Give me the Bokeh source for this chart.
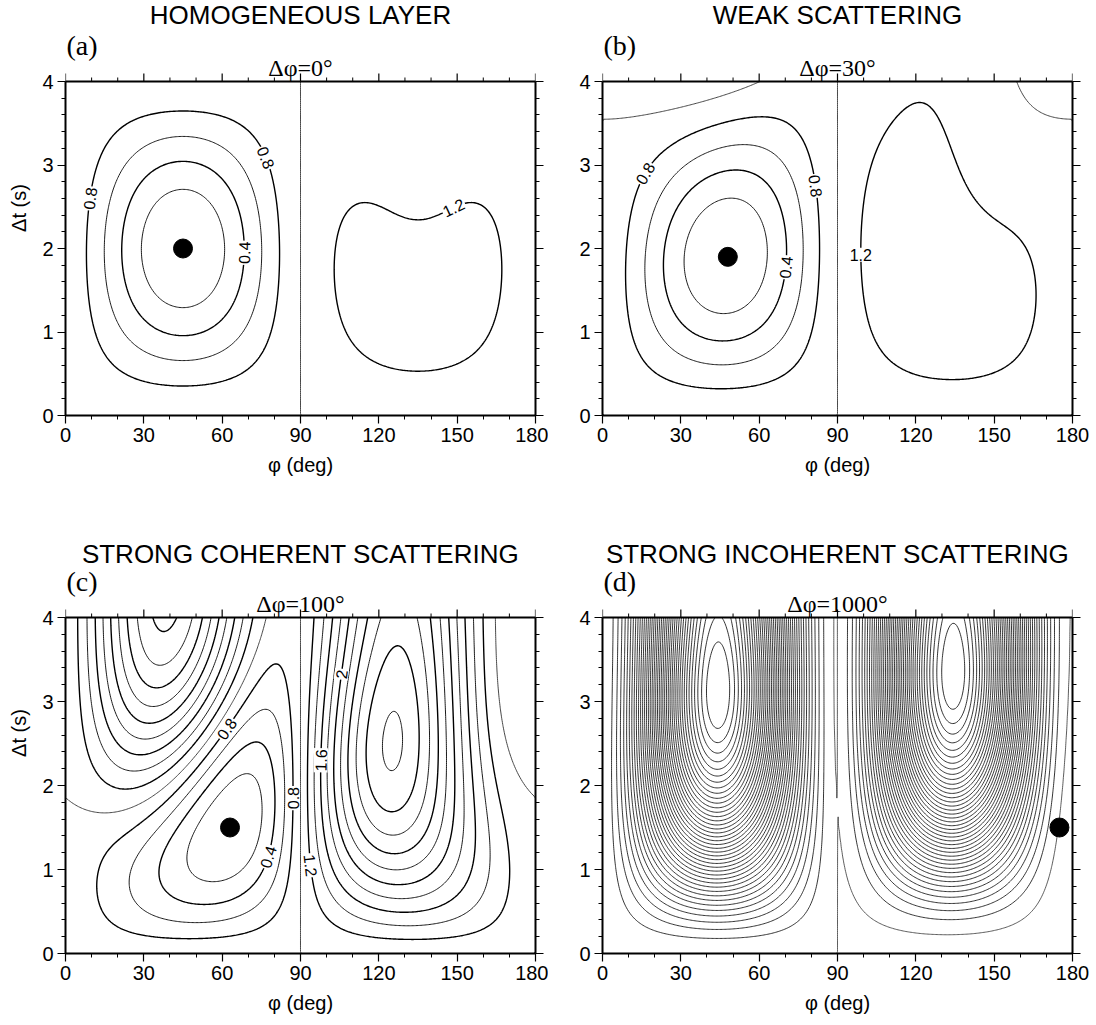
import numpy as np
from contourpy import contour_generator
from bokeh.plotting import figure
from bokeh.layouts import column, row
from bokeh.models import Label, LinearAxis, FixedTicker, Range1d, ColumnDataSource
from bokeh.core.properties import value
from bokeh.embed import file_html
from bokeh.resources import INLINE

# ---------------- values ----------------
panel_titles = ["HOMOGENEOUS LAYER", "WEAK SCATTERING",
                "STRONG COHERENT SCATTERING", "STRONG INCOHERENT SCATTERING"]
panel_tags = ["(a)", "(b)", "(c)", "(d)"]
dphi_values = [0, 30, 100, 1000]          # rotation of fast axis (deg)
best_phi = [45, 48, 63, 175]               # black dots
best_dt = [2.0, 1.9, 1.5, 1.5]
x_ticks = [0, 30, 60, 90, 120, 150, 180]
x_minor = list(range(0, 181, 10))
y_ticks = [0, 1, 2, 3, 4]
y_minor = [round(0.2 * i, 1) for i in range(21)]
contour_step = 0.2
d_level_count = 42                         # contours in the incoherent case
# anisotropic model parameters (estimated)
layer_phi = 45.0
layer_dt = 2.0
wavelet_sigma = 0.655                      # rad/s, spectrum ~ w*exp(-w^2/2s^2)
n_sublayers = 200
# contour annotations (panel, level, text, approx phi, approx dt, fixed angle or None)
label_panel = [0, 0, 0, 0, 1, 1, 1, 1, 2, 2, 2, 2, 2, 2]
label_level = [0.8, 0.8, 0.4, 1.2, 0.8, 0.8, 0.4, 1.2, 0.8, 0.8, 1.6, 2.0, 0.4, 1.2]
label_text = ["0.8", "0.8", "0.4", "1.2", "0.8", "0.8", "0.4", "1.2",
              "0.8", "0.8", "1.6", "2", "0.4", "1.2"]
label_phi = [9.9, 77.0, 69.2, 148.6, 17.0, 81.5, 70.6, 99.2, 61.2, 87.3, 98.2, 106.4, 77.7, 93.0]
label_dt = [2.61, 3.09, 1.95, 2.47, 2.89, 2.75, 1.77, 1.93, 2.68, 1.85, 2.30, 3.31, 1.14, 1.04]
label_fixed = [None, None, None, None, None, None, None, 0.0, None, None, None, None, None, None]

# ---------------- model ----------------
phi_grid = np.linspace(0, 180, 362)
dt_grid = np.linspace(0, 4, 161)
w = np.linspace(0.004, 3.2, 800)
P = w * np.exp(-w ** 2 / (2 * wavelet_sigma ** 2))


def forward(dphi):
    start = layer_phi - dphi / 2.0
    th = np.deg2rad(start + dphi * (np.arange(n_sublayers) + 0.5) / n_sublayers)
    ph = np.exp(-1j * w * layer_dt / n_sublayers)
    UR = np.ones_like(w, dtype=complex)
    UT = np.zeros_like(w, dtype=complex)
    for t in th:
        c, s = np.cos(t), np.sin(t)
        f = c * UR + s * UT
        sl = (-s * UR + c * UT) * ph
        UR = c * f - s * sl
        UT = s * f + c * sl
    return UR, UT


def energy(dphi):
    UR, UT = forward(dphi)
    E0 = np.sum(P * np.abs(UT) ** 2)
    phr = np.deg2rad(phi_grid)[:, None]
    c, s = np.cos(phr), np.sin(phr)
    A = (s * c) * UR[None, :]
    B = UT[None, :]
    E = np.empty((len(dt_grid), len(phi_grid)))
    for j, d in enumerate(dt_grid):
        e = np.exp(1j * w * d)[None, :]
        VT = A * (1 - e) + B * (s * s + c * c * e)
        E[j] = (np.abs(VT) ** 2) @ P / E0
    return E


SX = 470 / 180.0


def style_axis(ax, show_labels):
    ax.axis_line_width = 2
    ax.major_tick_out = 8
    ax.major_tick_in = 0
    ax.minor_tick_out = 4
    ax.minor_tick_in = 0
    ax.major_tick_line_width = 1.2
    ax.minor_tick_line_width = 1
    ax.major_label_text_font = "Liberation Sans"
    ax.axis_label_text_font = "Liberation Sans"
    ax.axis_label_text_font_size = "20px"
    ax.axis_label_text_font_style = "normal"
    ax.axis_label_text_color = "black"
    if show_labels:
        ax.major_label_text_font_size = "20px"
        ax.major_label_text_color = "black"
        ax.major_label_standoff = 4
    else:
        ax.major_label_text_font_size = "1px"
        ax.major_label_text_color = None
        ax.major_label_standoff = 0


def make_panel(k, E):
    head = 81 if k < 2 else 105          # pixels above the data area
    fh = 334 if k < 2 else 336           # data-area height
    bottom = 97 if k < 2 else 72
    left = 65 if k % 2 == 0 else 54
    right = 13 if k % 2 == 0 else 24
    sy = fh / 4.0
    ytop = 4.0 + head / sy
    p = figure(frame_width=470, frame_height=fh + head, output_backend="svg", toolbar_location=None,
               x_range=Range1d(0, 180), y_range=Range1d(0, ytop),
               min_border_left=left, min_border_right=right,
               min_border_top=0, min_border_bottom=bottom,
               x_axis_location=None, y_axis_location=None)
    p.xgrid.visible = False
    p.ygrid.visible = False
    p.outline_line_color = None
    p.background_fill_color = "white"
    p.border_fill_color = "white"

    if k < 3:
        levels = np.round(np.arange(contour_step, E.max(), contour_step), 6)
    else:
        stepd = (E.max() - 1.0) / d_level_count
        levels = 1.0 + stepd * np.arange(d_level_count)
    gen = contour_generator(x=phi_grid, y=dt_grid, z=E)
    xs, ys, lw, lc = [], [], [], []
    lines_by_level = {}
    for i, lev in enumerate(levels):
        lines = gen.lines(lev)
        lines_by_level[round(float(lev), 1)] = lines
        thick = (i % 2 == 1)
        unit = abs(lev - 1.0) < 1e-9
        for seg in lines:
            xs.append(seg[:, 0].tolist())
            ys.append(seg[:, 1].tolist())
            if k == 3:
                lw.append(0.8)
            else:
                lw.append(1.4 if thick else 0.9)
            lc.append("#333333" if unit else "black")
    p.multi_line(xs="xs", ys="ys", line_width="lw", line_color="lc",
                 source=ColumnDataSource(dict(xs=xs, ys=ys, lw=lw, lc=lc)))

    p.scatter([best_phi[k]], [best_dt[k]], size=19, color="black")

    for j in range(len(label_panel)):
        if label_panel[j] != k:
            continue
        lev = label_level[j]
        x0, y0 = label_phi[j], label_dt[j]
        best = None
        for seg in lines_by_level.get(lev, []):
            d = ((seg[:, 0] - x0) * SX) ** 2 + ((seg[:, 1] - y0) * sy) ** 2
            i = int(np.argmin(d))
            if best is None or d[i] < best[0]:
                best = (d[i], seg, i)
        ang = 0.0
        if best is not None and best[0] < 30 ** 2:
            seg, i = best[1], best[2]
            x0, y0 = seg[i]
            a, b = max(i - 3, 0), min(i + 3, len(seg) - 1)
            ang = np.arctan2((seg[b, 1] - seg[a, 1]) * sy, (seg[b, 0] - seg[a, 0]) * SX)
            if ang > np.pi / 2:
                ang -= np.pi
            if ang <= -np.pi / 2:
                ang += np.pi
        if label_fixed[j] is not None:
            ang = label_fixed[j]
        p.add_layout(Label(x=float(x0), y=float(y0), text=label_text[j], angle=float(ang),
                           text_align="center", text_baseline="middle",
                           text_font="Liberation Sans", text_font_size="16px", text_color="black",
                           background_fill_color="white", padding=1))

    # frame: bottom/left/right as axes limited to the data area, top drawn along y=4
    bx = LinearAxis(ticker=FixedTicker(ticks=x_ticks, minor_ticks=x_minor), axis_label="φ (deg)")
    style_axis(bx, True)
    bx.axis_label_standoff = 9
    p.add_layout(bx, "below")
    ly = LinearAxis(ticker=FixedTicker(ticks=y_ticks, minor_ticks=y_minor), bounds=(0, 4))
    style_axis(ly, True)
    if k % 2 == 0:
        ly.axis_label = "Δt (s)"
        ly.axis_label_standoff = 9
    p.add_layout(ly, "left")
    ry = LinearAxis(ticker=FixedTicker(ticks=y_ticks, minor_ticks=y_minor), bounds=(0, 4))
    style_axis(ry, False)
    p.add_layout(ry, "right")

    p.segment(x0=[0], y0=[4], x1=[180], y1=[4], line_width=2, line_color="black")
    p.segment(x0=x_ticks, y0=[4] * len(x_ticks), x1=x_ticks, y1=[4 + 8 / sy] * len(x_ticks),
              line_width=1.2, line_color="black")
    mnr = [t for t in x_minor if t not in x_ticks]
    p.segment(x0=mnr, y0=[4] * len(mnr), x1=mnr, y1=[4 + 4 / sy] * len(mnr),
              line_width=1, line_color="black")

    # headings
    head_px = 67 if k < 2 else 64
    p.text(x=[90], y=[4 + head_px / sy], text=[panel_titles[k]], text_align="center",
           text_baseline="middle", text_font=value("Liberation Sans"), text_font_size="26px",
           text_color="black")
    p.text(x=[0.4], y=[4 + 36 / sy], text=[panel_tags[k]], text_align="left",
           text_baseline="middle", text_font=value("Liberation Serif"), text_font_size="28px",
           text_color="black")
    p.text(x=[90], y=[4 + 14 / sy], text=["Δφ=%d°" % dphi_values[k]], text_align="center",
           text_baseline="middle", text_font=value("Liberation Serif"), text_font_size="24px",
           text_color="black")
    return p


fields = [energy(d) for d in dphi_values]
panels = [make_panel(k, fields[k]) for k in range(4)]
layout = column(row(panels[0], panels[1]), row(panels[2], panels[3]))
open("out.html", "w").write(file_html(layout, INLINE))
